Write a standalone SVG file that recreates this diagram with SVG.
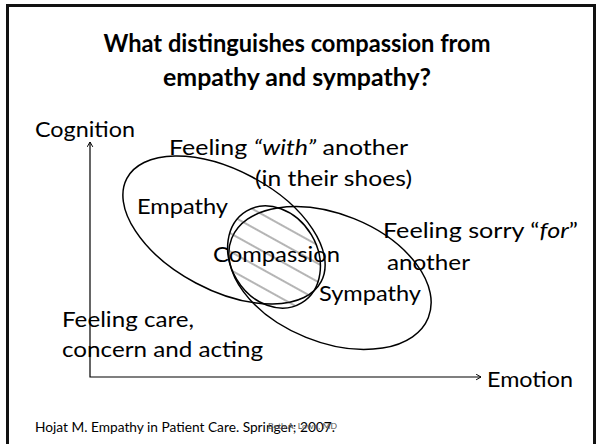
<svg xmlns="http://www.w3.org/2000/svg" width="596" height="444" viewBox="0 0 596 444">
  <style>
    text { font-family: Lato, "Liberation Sans", sans-serif; fill: #000; }
    .title { font-size: 25px; font-weight: bold; text-anchor: middle; }
    .lbl { font-size: 20.5px; }
    .ref { font-size: 13px; }
    .sig { font-size: 7.5px; fill: #555; }
    .ring { fill: none; stroke: #000; stroke-width: 1.5; }
    .axis { fill: none; stroke: #000; stroke-width: 1.2; }
  </style>
  <defs>
    <!-- hatch lines end up at about 29deg once the ellipse's own 59deg turn is added -->
    <pattern id="hatch" width="16" height="16" patternUnits="userSpaceOnUse" patternTransform="rotate(-30)">
      <line x1="0" y1="8" x2="16" y2="8" stroke="#2a2a2a" stroke-width="0.7"/>
    </pattern>
    <marker id="chevron" viewBox="0 0 10 10" refX="9" refY="5" markerWidth="7" markerHeight="7" markerUnits="userSpaceOnUse" orient="auto-start-reverse">
      <path d="M2,1 L9,5 L2,9" fill="none" stroke="#000" stroke-width="1.4"/>
    </marker>
  </defs>

  <rect width="596" height="444" fill="#fff"/>

  <!-- slide frame -->
  <g id="frame">
    <rect x="7.5" y="5.5" width="587" height="460" fill="none" stroke="#111" stroke-width="3"/>
  </g>

  <!-- heading -->
  <g id="title">
    <text class="title" x="297" y="52" textLength="387" lengthAdjust="spacingAndGlyphs">What distinguishes compassion from</text>
    <text class="title" x="297" y="86" textLength="268" lengthAdjust="spacingAndGlyphs">empathy and sympathy?</text>
  </g>

  <!-- axes -->
  <g id="connectors">
    <path class="axis" d="M90,142 L90,377 L481,377" marker-start="url(#chevron)" marker-end="url(#chevron)"/>
  </g>

  <!-- overlapping regions -->
  <g id="empathy">
    <ellipse class="ring" cx="224" cy="230" rx="110" ry="60" transform="rotate(28 224 230)"/>
  </g>
  <g id="sympathy">
    <ellipse class="ring" cx="330" cy="278" rx="106" ry="64" transform="rotate(22 330 278)"/>
  </g>
  <g id="compassion">
    <ellipse cx="274" cy="257" rx="53.6" ry="43.5" transform="rotate(59 274 257)" fill="url(#hatch)" stroke="#000" stroke-width="1.5"/>
  </g>

  <!-- labels -->
  <g id="labels">
    <text class="lbl" x="35" y="137" textLength="100" lengthAdjust="spacingAndGlyphs">Cognition</text>
    <text class="lbl" x="169" y="155" textLength="239" lengthAdjust="spacingAndGlyphs">Feeling <tspan font-style="italic">“with”</tspan> another</text>
    <text class="lbl" x="255" y="186" textLength="157" lengthAdjust="spacingAndGlyphs">(in their shoes)</text>
    <text class="lbl" x="137" y="214" textLength="91" lengthAdjust="spacingAndGlyphs">Empathy</text>
    <text class="lbl" x="213" y="262" textLength="127" lengthAdjust="spacingAndGlyphs">Compassion</text>
    <text class="lbl" x="383" y="238" textLength="195" lengthAdjust="spacingAndGlyphs">Feeling sorry “<tspan font-style="italic">for</tspan>”</text>
    <text class="lbl" x="387" y="270" textLength="83" lengthAdjust="spacingAndGlyphs">another</text>
    <text class="lbl" x="319" y="301" textLength="102" lengthAdjust="spacingAndGlyphs">Sympathy</text>
    <text class="lbl" x="62" y="327" textLength="132" lengthAdjust="spacingAndGlyphs">Feeling care,</text>
    <text class="lbl" x="62" y="357" textLength="201" lengthAdjust="spacingAndGlyphs">concern and acting</text>
    <text class="lbl" x="487" y="387" textLength="86" lengthAdjust="spacingAndGlyphs">Emotion</text>
  </g>

  <!-- citation -->
  <g id="footer">
    <text class="ref" x="35" y="432" textLength="300" lengthAdjust="spacingAndGlyphs">Hojat M. Empathy in Patient Care. Springer; 2007.</text>
    <text class="sig" x="268" y="429" textLength="69" lengthAdjust="spacingAndGlyphs">Beth A. Lown, MD</text>
  </g>
</svg>
